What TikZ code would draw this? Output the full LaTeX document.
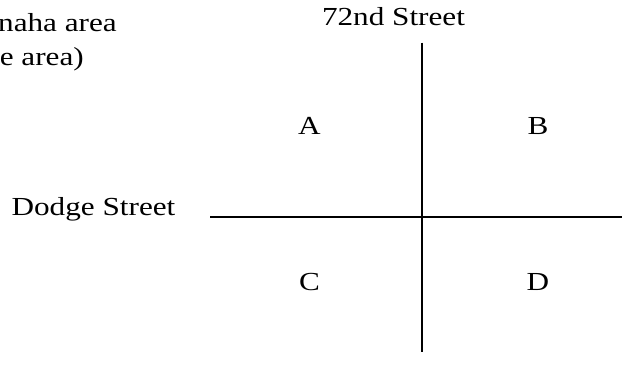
\documentclass[tikz,border=0pt]{standalone}
\usepackage{graphicx}
\usepackage{fontspec}
\setmainfont{Liberation Serif}
\newcommand{\wx}[1]{\scalebox{1.2}[1]{#1}}
\begin{document}
\begin{tikzpicture}[x=1pt,y=-1pt,
  lbl/.style={inner sep=0pt, font=\fontsize{26}{30}\selectfont},
  road/.style={line width=1.7pt}]
\useasboundingbox (0,0) rectangle (622,365);
\node[lbl, anchor=base east] (t1) at (117,31) {\wx{naha area}};
\node[lbl, anchor=base east] (t2) at (84,65) {\wx{e area)}};
\node[lbl, anchor=base] (s72) at (393.5,25) {\wx{72nd Street}};
\node[lbl, anchor=base] (dodge) at (93.5,215) {\wx{Dodge Street}};
\node[lbl, anchor=base] (A) at (309.5,134) {\wx{A}};
\node[lbl, anchor=base] (B) at (538,134) {\wx{B}};
\node[lbl, anchor=base] (C) at (309.5,290) {\wx{C}};
\node[lbl, anchor=base] (D) at (538,290) {\wx{D}};
\coordinate (vt) at (422.3,42.5);
\coordinate (vb) at (422.3,352);
\coordinate (hl) at (210,216.7);
\coordinate (hr) at (622,216.7);
\draw[road] (vt) -- (vb);
\draw[road] (hl) -- (hr);
\end{tikzpicture}
\end{document}
